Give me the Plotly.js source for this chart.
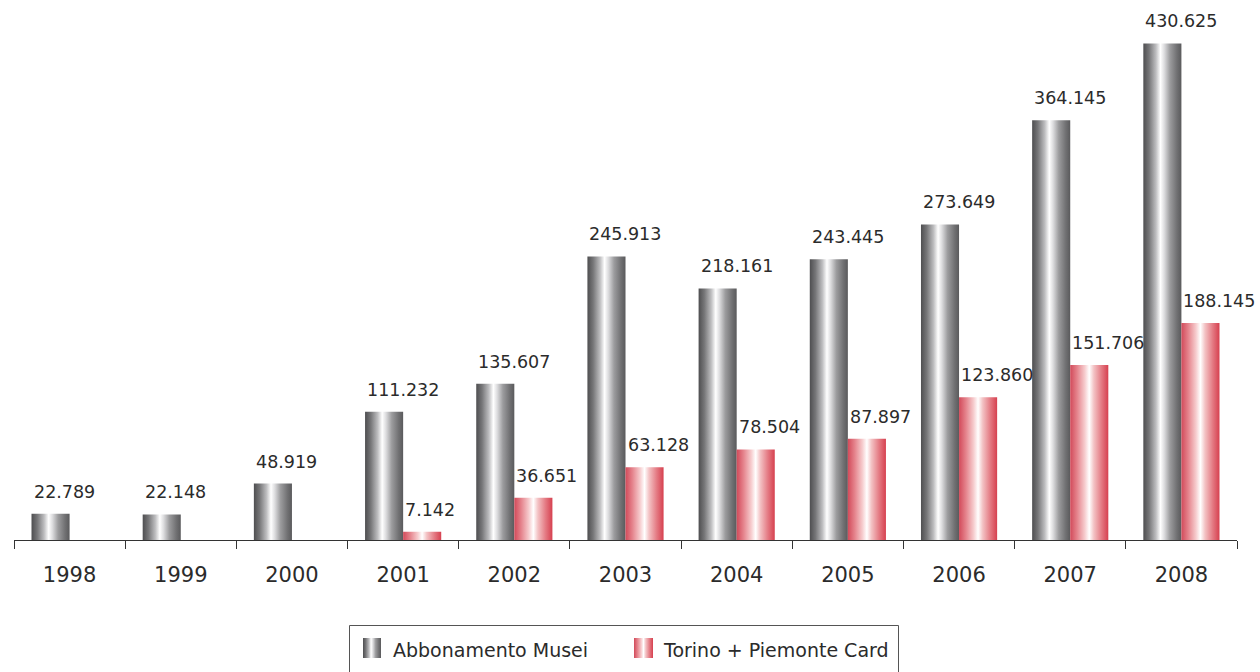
<!DOCTYPE html>
<html>
<head>
<meta charset="utf-8">
<script src="https://cdn.plot.ly/plotly-3.0.1.min.js"></script>
<style>
  html, body { margin: 0; padding: 0; background: #ffffff; }
  #chart { width: 1260px; height: 672px; }
</style>
</head>
<body>
<div id="chart"></div>
<script>
// ---- data ----
const years = ['1998','1999','2000','2001','2002','2003','2004','2005','2006','2007','2008'];
const abbonamentoMusei = [22789, 22148, 48919, 111232, 135607, 245913, 218161, 243445, 273649, 364145, 430625];
const torinoPiemonteCard = [null, null, null, 7142, 36651, 63128, 78504, 87897, 123860, 151706, 188145];
const seriesNames = ['Abbonamento Musei', 'Torino + Piemonte Card'];

function fmt(v) { return String(v).replace(/\B(?=(\d{3})+(?!\d))/g, '.'); }

const textColor = '#2b2b2b';
const fontFam = '"DejaVu Sans", "Liberation Sans", sans-serif';

// plot area geometry (pixels) used to place the hand-drawn legend
const W = 1260, H = 672;
const M = { l: 14, r: 23, t: 20, b: 132 };
const PW = W - M.l - M.r, PH = H - M.t - M.b;
const px = x => (x - M.l) / PW;
const py = y => (H - M.b - y) / PH;

const traces = [
  { type: 'bar', name: seriesNames[0], x: years, y: abbonamentoMusei,
    marker: { color: '#8a8a8c', line: { width: 0 } }, hoverinfo: 'skip', showlegend: false },
  { type: 'bar', name: seriesNames[1], x: years, y: torinoPiemonteCard,
    marker: { color: '#e07a84', line: { width: 0 } }, hoverinfo: 'skip', showlegend: false }
];

const halfGroup = 0.3425;
const annotations = [];
years.forEach((yr, i) => {
  if (abbonamentoMusei[i] != null) {
    annotations.push({ x: i - halfGroup, y: abbonamentoMusei[i], xref: 'x', yref: 'y',
      text: fmt(abbonamentoMusei[i]), showarrow: false, xanchor: 'left', yanchor: 'bottom',
      yshift: 10, font: { family: fontFam, size: 17.5, color: textColor } });
  }
  if (torinoPiemonteCard[i] != null) {
    annotations.push({ x: i, y: torinoPiemonteCard[i], xref: 'x', yref: 'y',
      text: fmt(torinoPiemonteCard[i]), showarrow: false, xanchor: 'left', yanchor: 'bottom',
      yshift: 10, font: { family: fontFam, size: 17.5, color: textColor } });
  }
});

// legend text
annotations.push({ xref: 'paper', yref: 'paper', x: px(391), y: py(649.5), xanchor: 'left', yanchor: 'middle',
  text: seriesNames[0], showarrow: false, font: { family: fontFam, size: 19, color: textColor } });
annotations.push({ xref: 'paper', yref: 'paper', x: px(661), y: py(649.5), xanchor: 'left', yanchor: 'middle',
  text: seriesNames[1], showarrow: false, font: { family: fontFam, size: 19, color: textColor } });

const shapes = [
  { type: 'rect', xref: 'paper', yref: 'paper', x0: px(349.5), x1: px(898.5), y0: py(625.5), y1: py(720),
    line: { color: '#555555', width: 1 }, fillcolor: 'rgba(0,0,0,0)', layer: 'above' },
  { type: 'rect', xref: 'paper', yref: 'paper', x0: px(363), x1: px(381), y0: py(638), y1: py(658),
    line: { width: 0 }, fillcolor: '#8a8a8c', layer: 'above' },
  { type: 'rect', xref: 'paper', yref: 'paper', x0: px(634), x1: px(653), y0: py(638), y1: py(658),
    line: { width: 0 }, fillcolor: '#e07a84', layer: 'above' }
];

const boundaries = [];
for (let i = 0; i <= years.length; i++) boundaries.push(i - 0.5);
const xRange = [-0.5, years.length - 0.5];

const layout = {
  width: W, height: H,
  margin: { l: M.l, r: M.r, t: M.t, b: M.b, autoexpand: false },
  paper_bgcolor: '#ffffff', plot_bgcolor: '#ffffff',
  barmode: 'group', bargap: 0.315, bargroupgap: 0,
  showlegend: false,
  font: { family: fontFam, color: textColor },
  xaxis: { type: 'category', categoryorder: 'array', categoryarray: years,
    range: xRange, autorange: false,
    showline: true, linecolor: '#333333', linewidth: 1,
    ticks: 'outside', tickson: 'boundaries', ticklen: 8, tickcolor: '#333333', tickwidth: 1,
    showgrid: false, zeroline: false, fixedrange: true, automargin: false,
    ticklabelstandoff: 16,
    tickfont: { family: fontFam, size: 21, color: textColor } },
  xaxis2: { type: 'linear', overlaying: 'x', anchor: 'y', side: 'bottom',
    range: xRange, autorange: false,
    tickmode: 'array', tickvals: boundaries, ticks: 'inside', ticklen: 7,
    tickcolor: '#333333', tickwidth: 1, showticklabels: false, automargin: false,
    showline: false, showgrid: false, zeroline: false, fixedrange: true },
  yaxis: { range: [0, 451000], autorange: false, visible: false, showgrid: false,
    zeroline: false, fixedrange: true, automargin: false },
  annotations: annotations,
  shapes: shapes
};

const gd = document.getElementById('chart');

function addGradients() {
  const svg = gd.querySelector('svg.main-svg');
  if (!svg) return;
  const NS = 'http://www.w3.org/2000/svg';
  let defs = svg.querySelector('defs#customGrad');
  if (!defs) {
    defs = document.createElementNS(NS, 'defs');
    defs.setAttribute('id', 'customGrad');
    const grads = {
      gradGray: [[0,'#4e4e50'],[0.15,'#767678'],[0.33,'#bdbdbf'],[0.45,'#ffffff'],[0.55,'#dcdcde'],[0.7,'#9c9c9e'],[0.88,'#717173'],[1,'#5a5a5c']],
      gradRed: [[0,'#d24a5a'],[0.18,'#e5838c'],[0.38,'#f6cbcd'],[0.5,'#ffffff'],[0.62,'#f3c2c4'],[0.82,'#e47a83'],[1,'#d6404f']]
    };
    Object.keys(grads).forEach(id => {
      const lg = document.createElementNS(NS, 'linearGradient');
      lg.setAttribute('id', id);
      lg.setAttribute('x1', '0'); lg.setAttribute('y1', '0');
      lg.setAttribute('x2', '1'); lg.setAttribute('y2', '0');
      grads[id].forEach(s => {
        const st = document.createElementNS(NS, 'stop');
        st.setAttribute('offset', s[0]);
        st.setAttribute('stop-color', s[1]);
        lg.appendChild(st);
      });
      defs.appendChild(lg);
    });
    svg.insertBefore(defs, svg.firstChild);
  }
  const ids = ['gradGray', 'gradRed'];
  gd.querySelectorAll('.barlayer .trace').forEach((t, k) => {
    t.querySelectorAll('path').forEach(p => { p.style.fill = 'url(#' + ids[k] + ')'; });
  });
  const shapePaths = gd.querySelectorAll('.layer-above .shapelayer path');
  if (shapePaths.length >= 3) {
    shapePaths[1].style.fill = 'url(#gradGray)';
    shapePaths[2].style.fill = 'url(#gradRed)';
  }
}

Plotly.newPlot(gd, traces, layout, { displayModeBar: false, staticPlot: true }).then(() => {
  addGradients();
  gd.on('plotly_afterplot', addGradients);
});
</script>
</body>
</html>
